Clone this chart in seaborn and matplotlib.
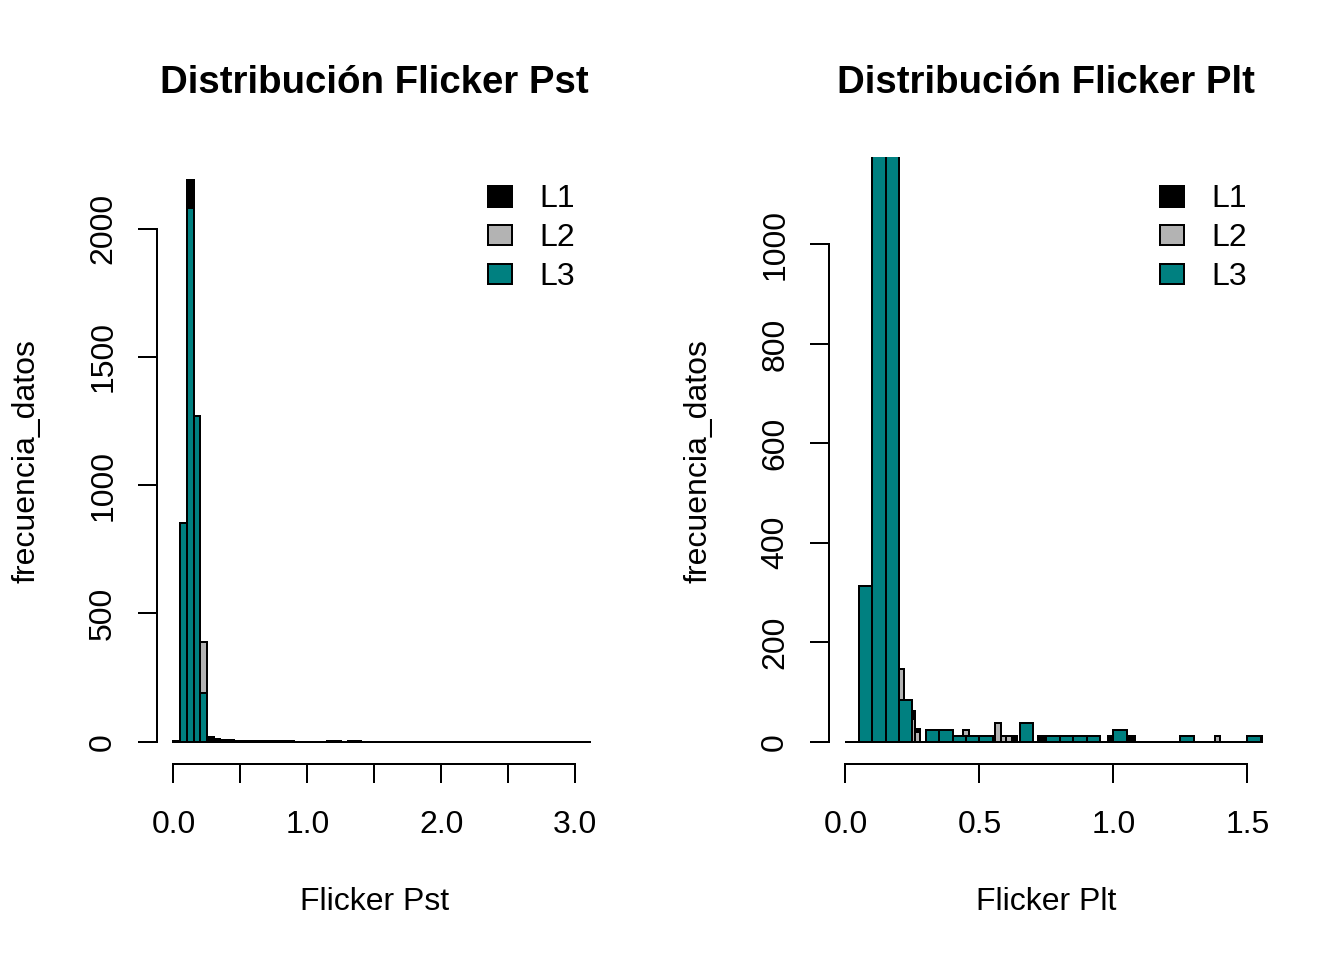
import numpy as np
import pandas as pd
import matplotlib
matplotlib.use("Agg")
import matplotlib.pyplot as plt
from matplotlib.patches import Patch
import seaborn as sns

# ---------------- data (counts per bin) ----------------
series_names = ["L1", "L2", "L3"]
series_colors = ["#000000", "#B3B3B3", "#008080"]

# Flicker Pst: bins of width 0.05 starting at 0
pst_width = 0.05
pst_L1 = [4, 820, 2190, 1180, 240, 18, 9, 5, 5, 2,
          4, 4, 1, 0, 3, 1, 3, 1, 0, 0,
          0, 0, 0, 3, 3, 0, 3, 3, 0, 0,
          0, 0, 0, 0, 0, 0, 0, 0, 0, 0,
          0, 0, 0, 0, 0, 0, 0, 0, 0, 0,
          0, 0, 0, 0, 0, 0, 0, 0, 0, 0]
pst_L2 = [2, 780, 2050, 1210, 390, 12, 6, 4, 3, 2,
          2, 2, 1, 1, 2, 1, 2, 1, 0, 0,
          0, 0, 0, 1, 1, 0, 1, 1, 0, 0,
          0, 0, 0, 0, 0, 0, 0, 0, 0, 0,
          0, 0, 0, 0, 0, 0, 0, 0, 0, 0,
          0, 0, 0, 0, 0, 0, 0, 0, 0, 0,
          0, 0, 0, 0]
pst_L3 = [0, 851, 2082, 1269, 191, 4, 2, 1, 1, 1,
          0, 0, 0, 0, 0, 0, 0, 0, 0, 0,
          0, 0, 0, 0, 0, 0, 0, 0, 0, 0, 0]

# Flicker Plt: L1 and L2 bins of width 0.02, L3 bins of width 0.05, all from 0
plt_width_L1 = 0.02
plt_width_L2 = 0.02
plt_width_L3 = 0.05
plt_L1 = [0, 0, 0, 90, 260, 720, 1130, 980, 620, 300,
          80, 75, 62, 25, 0, 12, 0, 0, 12, 0,
          0, 0, 0, 0, 12, 0, 0, 0, 0, 0,
          0, 12, 0, 0, 0, 0, 12, 0, 12, 0,
          0, 0, 0, 12, 0, 0, 0, 0, 0, 12,
          12, 0, 12, 12, 0, 0, 0, 0, 0, 0,
          0, 0, 0, 12, 0, 0, 0, 0, 0, 0,
          0, 0, 0, 0, 0, 0, 0, 12]
plt_L2 = [0, 0, 0, 70, 240, 680, 1050, 1000, 700, 330,
          146, 70, 45, 20, 0, 0, 0, 0, 0, 0,
          0, 0, 24, 0, 0, 0, 0, 0, 37, 12,
          12, 0, 0, 0, 0, 0, 0, 0, 0, 0,
          0, 0, 0, 0, 0, 0, 0, 0, 0, 0,
          0, 0, 0, 0, 0, 0, 0, 0, 0, 0,
          0, 0, 0, 0, 0, 0, 0, 0, 0, 12]
plt_L3 = [0, 313, 1650, 1420, 84, 0, 24, 24, 12, 12,
          12, 0, 0, 37, 0, 12, 12, 12, 12, 0,
          24, 0, 0, 0, 0, 12, 0, 0, 0, 0, 12]

pst_xticks = [0.0, 0.5, 1.0, 1.5, 2.0, 2.5, 3.0]
pst_xticklabels = ["0.0", "", "1.0", "", "2.0", "", "3.0"]
pst_yticks = [0, 500, 1000, 1500, 2000]
plt_xticks = [0.0, 0.5, 1.0, 1.5]
plt_xticklabels = ["0.0", "0.5", "1.0", "1.5"]
plt_yticks = [0, 200, 400, 600, 800, 1000]

titles = ["Distribución Flicker Pst", "Distribución Flicker Plt"]
xlabels = ["Flicker Pst", "Flicker Plt"]
ylabel = "frecuencia_datos"

# ---------------- style ----------------
sns.set_theme(style="white")
plt.rcParams["font.family"] = ["Liberation Sans", "DejaVu Sans"]
plt.rcParams["axes.linewidth"] = 0.75
plt.rcParams["text.color"] = "black"
plt.rcParams["axes.labelcolor"] = "black"
plt.rcParams["axes.titlecolor"] = "black"
plt.rcParams["xtick.color"] = "black"
plt.rcParams["ytick.color"] = "black"

LW = 0.75

fig = plt.figure(figsize=(7, 5), dpi=192)
ax1 = fig.add_axes([0.1171, 0.2040, 0.3229, 0.6321])
ax2 = fig.add_axes([0.6171, 0.2040, 0.3229, 0.6321])


def draw_hist(ax, counts, width, color):
    counts = [float(c) for c in counts]
    edges = [round(i * width, 6) for i in range(len(counts) + 1)]
    centers = [(edges[i] + edges[i + 1]) / 2 for i in range(len(counts))]
    df = pd.DataFrame({"value": centers, "count": counts})
    sns.histplot(data=df, x="value", weights="count", bins=edges, ax=ax,
                 color=color, alpha=1, edgecolor="black", linewidth=LW,
                 stat="count")
    return edges


def style_axes(ax, xrange_max, ymax, xticks, xticklabels, yticks, title, xlabel):
    ax.set_xlim(-0.04 * xrange_max, 1.04 * xrange_max)
    ax.set_ylim(-0.04 * ymax, 1.04 * ymax)
    for s in ["top", "right"]:
        ax.spines[s].set_visible(False)
    for s in ["left", "bottom"]:
        ax.spines[s].set_color("black")
        ax.spines[s].set_linewidth(LW)
    ax.spines["left"].set_bounds(yticks[0], yticks[-1])
    ax.spines["bottom"].set_bounds(xticks[0], xticks[-1])
    ax.set_xticks(xticks)
    ax.set_xticklabels(xticklabels)
    ax.set_yticks(yticks)
    ax.set_yticklabels([str(v) for v in yticks], rotation=90, va="center")
    ax.tick_params(axis="both", direction="out", length=7.2, width=LW,
                   color="black", labelsize=12, labelcolor="black",
                   left=True, bottom=True)
    ax.tick_params(axis="x", pad=10.0)
    ax.tick_params(axis="y", pad=7.5)
    ax.set_title(title, fontsize=14.4, fontweight="bold", pad=24, color="black")
    ax.set_xlabel(xlabel, fontsize=12, color="black")
    ax.set_ylabel(ylabel, fontsize=12, color="black")
    ax.xaxis.set_label_coords(0.5, -0.203)
    ax.yaxis.set_label_coords(-0.268, 0.5)
    ax.grid(False)
    handles = [Patch(facecolor=c, edgecolor="black", linewidth=LW, label=n)
               for n, c in zip(series_names, series_colors)]
    leg = ax.legend(handles=handles, loc="upper right",
                    bbox_to_anchor=(0.962, 0.9554),
                    frameon=False, fontsize=12, handlelength=0.75,
                    handleheight=0.62, handletextpad=0.85, labelspacing=0.28,
                    borderpad=0, borderaxespad=0)
    for t in leg.get_texts():
        t.set_color("black")


# Pst
e1 = draw_hist(ax1, pst_L1, pst_width, series_colors[0])
draw_hist(ax1, pst_L2, pst_width, series_colors[1])
draw_hist(ax1, pst_L3, pst_width, series_colors[2])
style_axes(ax1, e1[-1], max(pst_L1), pst_xticks, pst_xticklabels, pst_yticks,
           titles[0], xlabels[0])

# Plt
draw_hist(ax2, plt_L1, plt_width_L1, series_colors[0])
draw_hist(ax2, plt_L2, plt_width_L2, series_colors[1])
draw_hist(ax2, plt_L3, plt_width_L3, series_colors[2])
style_axes(ax2, 1.5, max(plt_L1), plt_xticks, plt_xticklabels, plt_yticks,
           titles[1], xlabels[1])

fig.savefig("out.png", dpi=192, facecolor="white")
